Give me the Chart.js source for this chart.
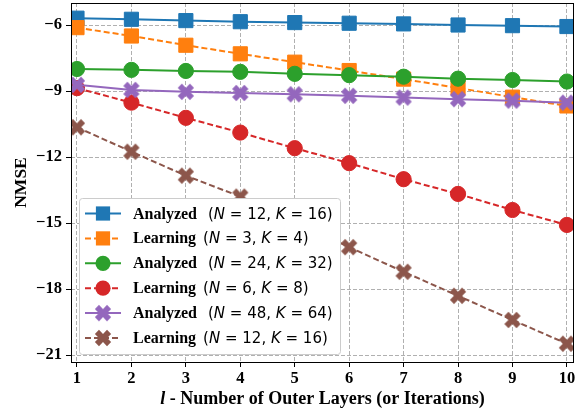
<!DOCTYPE html>
<html>
<head>
<meta charset="utf-8">
<script src="https://cdn.jsdelivr.net/npm/chart.js@4/dist/chart.umd.min.js"></script>
<style>
  html, body { margin: 0; padding: 0; background: #fff; }
  #wrap { width: 585px; height: 412px; }
</style>
</head>
<body>
<div id="wrap"><canvas id="nmse" width="585" height="412"></canvas></div>
<script>
// x axis: number of outer layers
const layers = [1, 2, 3, 4, 5, 6, 7, 8, 9, 10];

// NMSE (dB)
const analyzed12 = [-5.68, -5.73, -5.79, -5.84, -5.88, -5.91, -5.94, -5.99, -6.02, -6.06];
const learning3  = [-6.11, -6.49, -6.91, -7.30, -7.68, -8.06, -8.45, -8.85, -9.27, -9.67];
const analyzed24 = [-7.99, -8.03, -8.08, -8.12, -8.21, -8.27, -8.34, -8.43, -8.49, -8.56];
const learning6  = [-8.86, -9.52, -10.21, -10.88, -11.59, -12.27, -13.00, -13.67, -14.40, -15.08];
const analyzed48 = [-8.71, -8.94, -9.03, -9.08, -9.14, -9.21, -9.29, -9.36, -9.43, -9.52];
const learning12 = [-10.64, -11.75, -12.84, -13.79, -14.95, -16.09, -17.21, -18.30, -19.40, -20.48];

// legend labels
const methodNames = ['Analyzed', 'Learning', 'Analyzed', 'Learning', 'Analyzed', 'Learning'];
const antennasN = [12, 3, 24, 6, 48, 12];
const usersK = [16, 4, 32, 8, 64, 16];

// ticks
const yTicks = [-6, -9, -12, -15, -18, -21];
const xTicks = layers;

const series = [analyzed12, learning3, analyzed24, learning6, analyzed48, learning12];
const colors = ['#1f77b4', '#ff7f0e', '#2ca02c', '#d62728', '#9467bd', '#8c564b'];
const markers = ['square', 'square', 'circle', 'circle', 'xfill', 'xfill'];

// filled "X" marker like matplotlib's 'X'
function makeX(color) {
  const c = document.createElement('canvas');
  c.width = 20; c.height = 20;
  const g = c.getContext('2d');
  g.translate(10, 10);
  g.rotate(Math.PI / 4);
  const a = 8.6, w = 2.9;
  g.beginPath();
  g.moveTo(-w, -a); g.lineTo(w, -a); g.lineTo(w, -w); g.lineTo(a, -w);
  g.lineTo(a, w); g.lineTo(w, w); g.lineTo(w, a); g.lineTo(-w, a);
  g.lineTo(-w, w); g.lineTo(-a, w); g.lineTo(-a, -w); g.lineTo(-w, -w);
  g.closePath();
  g.fillStyle = color;
  g.fill();
  return c;
}

function pointOpts(kind, color) {
  if (kind === 'square') return { pointStyle: 'rect', pointRadius: 10 };
  if (kind === 'circle') return { pointStyle: 'circle', pointRadius: 7.6 };
  return { pointStyle: makeX(color), pointRadius: 10 };
}

const datasets = series.map((vals, i) => Object.assign({
  label: methodNames[i] + ' (N = ' + antennasN[i] + ', K = ' + usersK[i] + ')',
  data: vals.map((v, j) => ({ x: layers[j], y: v })),
  borderColor: colors[i],
  backgroundColor: colors[i],
  pointBackgroundColor: colors[i],
  pointBorderColor: colors[i],
  pointBorderWidth: 1,
  borderWidth: 2,
  borderDash: methodNames[i] === 'Learning' ? [6, 3] : [],
  tension: 0,
  order: -i
}, pointOpts(markers[i], colors[i])));

const serif = '"Liberation Serif", "Times New Roman", serif';
const mathFont = '"DejaVu Sans", sans-serif';

function drawMarker(ctx, kind, color, x, y) {
  ctx.save();
  ctx.fillStyle = color;
  if (kind === 'square') {
    ctx.fillRect(x - 7.1, y - 7.1, 14.2, 14.2);
  } else if (kind === 'circle') {
    ctx.beginPath(); ctx.arc(x, y, 7.6, 0, Math.PI * 2); ctx.fill();
  } else {
    const img = makeX(color);
    ctx.drawImage(img, x - 10, y - 10);
  }
  ctx.restore();
}

const extras = {
  id: 'extras',
  afterDatasetsDraw(chart) {
    const { ctx, chartArea: a } = chart;
    // axes frame
    ctx.save();
    ctx.strokeStyle = '#000';
    ctx.lineWidth = 1;
    ctx.strokeRect(Math.round(a.left) + 0.5, Math.round(a.top) + 0.5,
      Math.round(a.right - a.left) - 1, Math.round(a.bottom - a.top));
    ctx.restore();

    // legend
    const bx = 79.5, by = 198.5, bw = 261, bh = 156, r = 3;
    ctx.save();
    ctx.beginPath();
    ctx.moveTo(bx + r, by);
    ctx.arcTo(bx + bw, by, bx + bw, by + bh, r);
    ctx.arcTo(bx + bw, by + bh, bx, by + bh, r);
    ctx.arcTo(bx, by + bh, bx, by, r);
    ctx.arcTo(bx, by, bx + bw, by, r);
    ctx.closePath();
    ctx.fillStyle = '#ffffff';
    ctx.fill();
    ctx.strokeStyle = '#cccccc';
    ctx.lineWidth = 1;
    ctx.stroke();

    for (let i = 0; i < series.length; i++) {
      const cy = 213.5 + i * 24.9;
      ctx.save();
      ctx.strokeStyle = colors[i];
      ctx.lineWidth = 2;
      ctx.setLineDash(methodNames[i] === 'Learning' ? [6, 3] : []);
      ctx.beginPath(); ctx.moveTo(85, cy); ctx.lineTo(121, cy); ctx.stroke();
      ctx.restore();
      drawMarker(ctx, markers[i], colors[i], 103, cy);

      const base = cy + 5;
      let x = 133;
      ctx.fillStyle = '#000';
      ctx.textBaseline = 'alphabetic';
      ctx.textAlign = 'left';
      ctx.font = 'bold 16px ' + serif;
      ctx.fillText(methodNames[i], x, base);
      x += ctx.measureText(methodNames[i]).width;
      x += methodNames[i] === 'Analyzed' ? 11 : 7;
      const parts = [
        ['(', false], ['N', true], [' = ' + antennasN[i] + ', ', false],
        ['K', true], [' = ' + usersK[i] + ')', false]
      ];
      parts.forEach(([t, it]) => {
        ctx.font = (it ? 'italic ' : '') + '15px ' + mathFont;
        ctx.fillText(t, x, base);
        x += ctx.measureText(t).width;
      });
    }
    ctx.restore();

    // x axis title with italic l
    ctx.save();
    ctx.fillStyle = '#000';
    ctx.textBaseline = 'alphabetic';
    ctx.textAlign = 'left';
    const t1 = 'l', t2 = ' - Number of Outer Layers (or Iterations)';
    ctx.font = 'bold italic 18px ' + serif;
    const w1 = ctx.measureText(t1).width;
    ctx.font = 'bold 18px ' + serif;
    const w2 = ctx.measureText(t2).width;
    const cx = (a.left + a.right) / 2;
    let sx = cx - (w1 + w2) / 2;
    ctx.font = 'bold italic 18px ' + serif;
    ctx.fillText(t1, sx, 404);
    ctx.font = 'bold 18px ' + serif;
    ctx.fillText(t2, sx + w1, 404);
    ctx.restore();
  }
};

new Chart(document.getElementById('nmse'), {
  type: 'line',
  data: { datasets: datasets },
  options: {
    responsive: false,
    animation: false,
    events: [],
    layout: { autoPadding: false, padding: { top: 3, right: 11, left: 0, bottom: 0 } },
    plugins: { legend: { display: false }, tooltip: { enabled: false } },
    scales: {
      x: {
        type: 'linear',
        min: 0.89,
        max: 10.13,
        afterBuildTicks: s => { s.ticks = xTicks.map(v => ({ value: v })); },
        afterFit: s => { s.height = 50; s.paddingLeft = 0; s.paddingRight = 0; },
        grid: {
          color: '#b0b0b0', lineWidth: 1,
          tickColor: '#000', tickLength: 5, tickBorderDash: [], tickWidth: 1
        },
        border: { display: false, dash: [4, 2] },
        ticks: {
          color: '#000', padding: 2, maxRotation: 0,
          font: { family: serif, size: 16.5, weight: 'bold' },
          callback: v => String(v)
        }
      },
      y: {
        min: -21.31,
        max: -4.99,
        afterBuildTicks: s => { s.ticks = yTicks.map(v => ({ value: v })); },
        afterFit: s => { s.width = 71; s.paddingTop = 0; s.paddingBottom = 0; },
        grid: {
          color: '#b0b0b0', lineWidth: 1,
          tickColor: '#000', tickLength: 5, tickBorderDash: [], tickWidth: 1
        },
        border: { display: false, dash: [4, 2] },
        ticks: {
          color: '#000', padding: 4,
          font: { family: serif, size: 16.5, weight: 'bold' },
          callback: v => (v < 0 ? '\u2212' + Math.abs(v) : String(v))
        },
        title: {
          display: true, text: 'NMSE', color: '#000',
          padding: { top: 11, bottom: 0 },
          font: { family: serif, size: 17.5, weight: 'bold' }
        }
      }
    }
  },
  plugins: [extras]
});
</script>
</body>
</html>
